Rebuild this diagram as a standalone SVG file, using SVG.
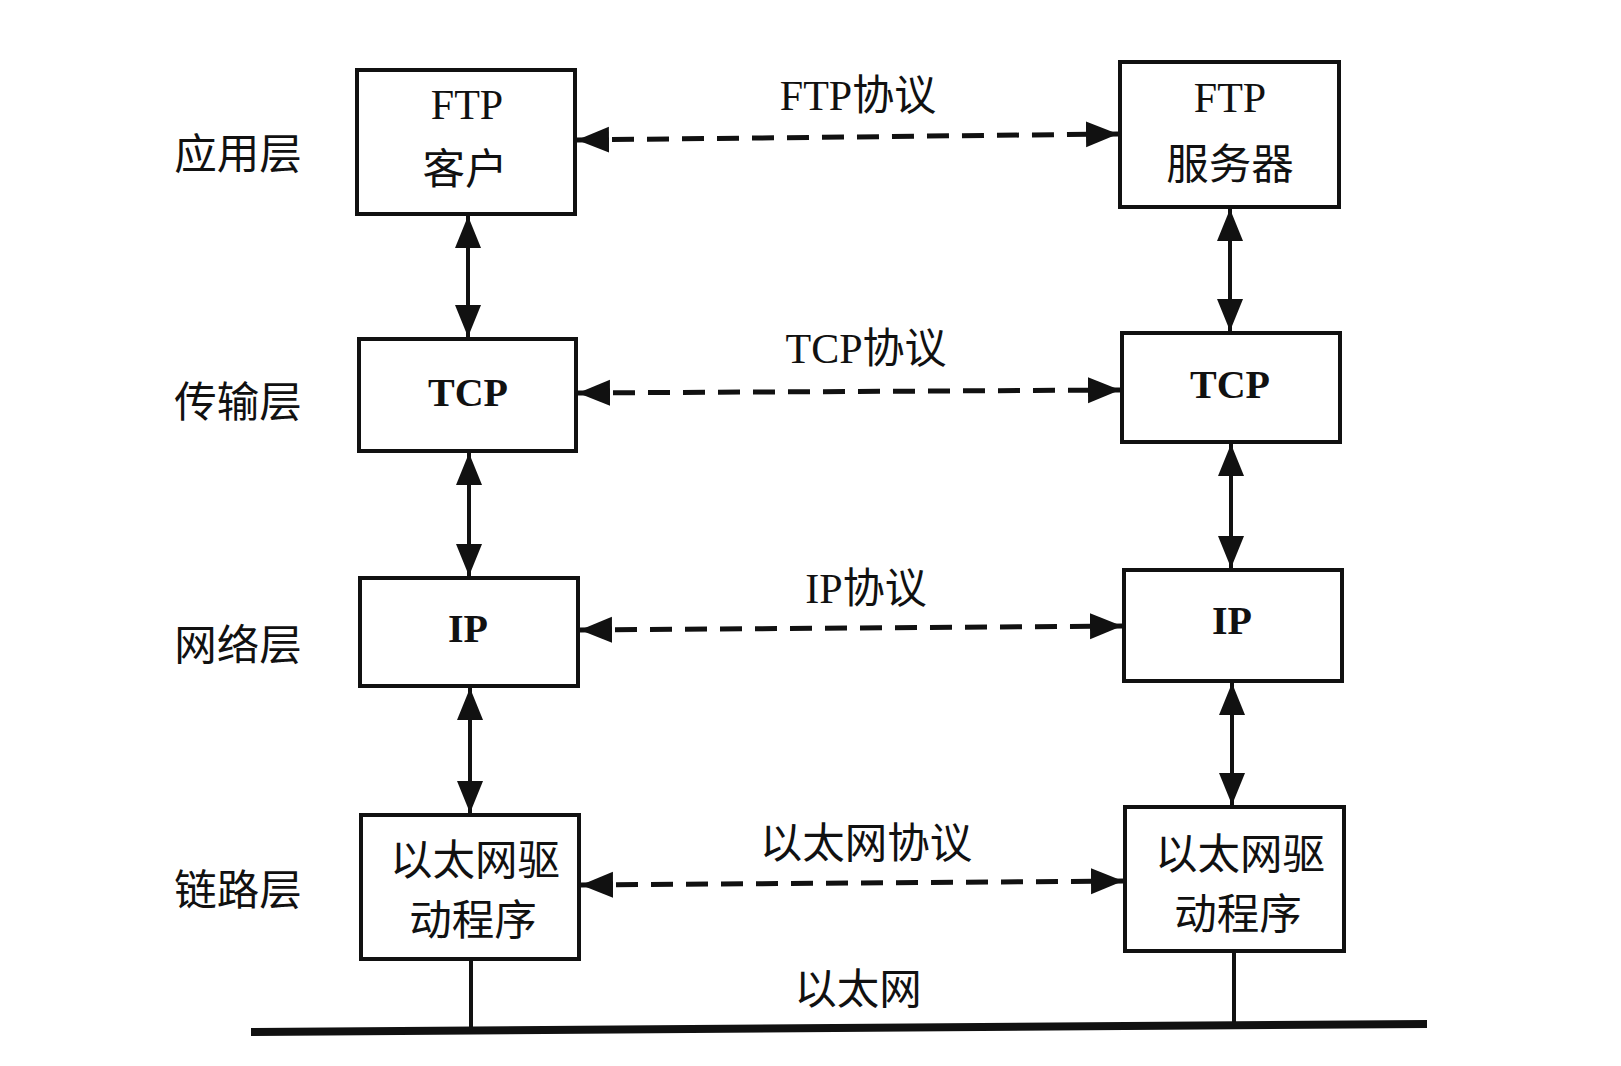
<svg xmlns="http://www.w3.org/2000/svg" width="1621" height="1066" viewBox="0 0 1621 1066">
<style>
.box{fill:#fff;stroke:#111;stroke-width:4}
.t{font-family:"Liberation Serif","Noto Sans CJK SC",serif;font-size:42px;fill:#111;text-anchor:middle;dominant-baseline:central}
.c{font-family:"Noto Sans CJK SC",sans-serif;font-size:42.5px;fill:#111;text-anchor:middle;dominant-baseline:central}
.b{font-weight:bold;font-size:40px}
.v{stroke:#111;stroke-width:4;fill:none;marker-start:url(#ah);marker-end:url(#ah)}
.d{stroke:#111;stroke-width:5;fill:none;stroke-dasharray:22 13;marker-start:url(#ah);marker-end:url(#ah)}
.s{stroke:#111;stroke-width:4;fill:none}
</style>
<defs>
<marker id="ah" markerUnits="userSpaceOnUse" markerWidth="34" markerHeight="28" refX="32" refY="13" orient="auto-start-reverse" viewBox="0 0 34 28">
<path d="M0,0 L32,13 L0,26 z" fill="#111"/>
</marker>
</defs>
<rect width="1621" height="1066" fill="#fff"/>
<g id="layers">
<text class="c" x="238" y="150">应用层</text>
<text class="c" x="238" y="398">传输层</text>
<text class="c" x="238" y="641">网络层</text>
<text class="c" x="238" y="886">链路层</text>
</g>
<g id="ftp-client"><rect class="box" x="357" y="70" width="218" height="144"/><text class="t" x="467" y="105">FTP</text><text class="c" x="465" y="165">客户</text></g>
<g id="ftp-server"><rect class="box" x="1120" y="62" width="219" height="145"/><text class="t" x="1230" y="98">FTP</text><text class="c" x="1230" y="160">服务器</text></g>
<g id="tcp-left"><rect class="box" x="359" y="339" width="217" height="112"/><text class="t b" x="468" y="392">TCP</text></g>
<g id="tcp-right"><rect class="box" x="1122" y="333" width="218" height="109"/><text class="t b" x="1230" y="384">TCP</text></g>
<g id="ip-left"><rect class="box" x="360" y="578" width="218" height="108"/><text class="t b" x="468" y="628">IP</text></g>
<g id="ip-right"><rect class="box" x="1124" y="570" width="218" height="111"/><text class="t b" x="1232" y="620">IP</text></g>
<g id="eth-left"><rect class="box" x="361" y="815" width="218" height="144"/><text class="c" x="475" y="856">以太网驱</text><text class="c" x="473" y="916">动程序</text></g>
<g id="eth-right"><rect class="box" x="1125" y="807" width="219" height="144"/><text class="c" x="1240" y="850">以太网驱</text><text class="c" x="1238" y="910">动程序</text></g>
<g id="labels">
<text class="t" x="858" y="96">FTP协议</text>
<text class="t" x="866" y="349">TCP协议</text>
<text class="t" x="866" y="589">IP协议</text>
<text class="c" x="866" y="839">以太网协议</text>
<text class="c" x="858" y="985">以太网</text>
</g>
<g id="connectors">
<line class="v" x1="468" y1="216" x2="468" y2="337"/>
<line class="v" x1="469" y1="453" x2="469" y2="576"/>
<line class="v" x1="470" y1="688" x2="470" y2="813"/>
<line class="v" x1="1230" y1="209" x2="1230" y2="331"/>
<line class="v" x1="1231" y1="444" x2="1231" y2="568"/>
<line class="v" x1="1232" y1="683" x2="1232" y2="805"/>
<line class="d" x1="577" y1="140" x2="1118" y2="134"/>
<line class="d" x1="578" y1="393" x2="1120" y2="390"/>
<line class="d" x1="580" y1="630" x2="1122" y2="626"/>
<line class="d" x1="581" y1="885" x2="1123" y2="881"/>
<line class="s" x1="471" y1="961" x2="471" y2="1032"/>
<line class="s" x1="1234" y1="953" x2="1234" y2="1024"/>
<line stroke="#111" stroke-width="8" x1="251" y1="1032" x2="1427" y2="1024"/>
</g>
</svg>
